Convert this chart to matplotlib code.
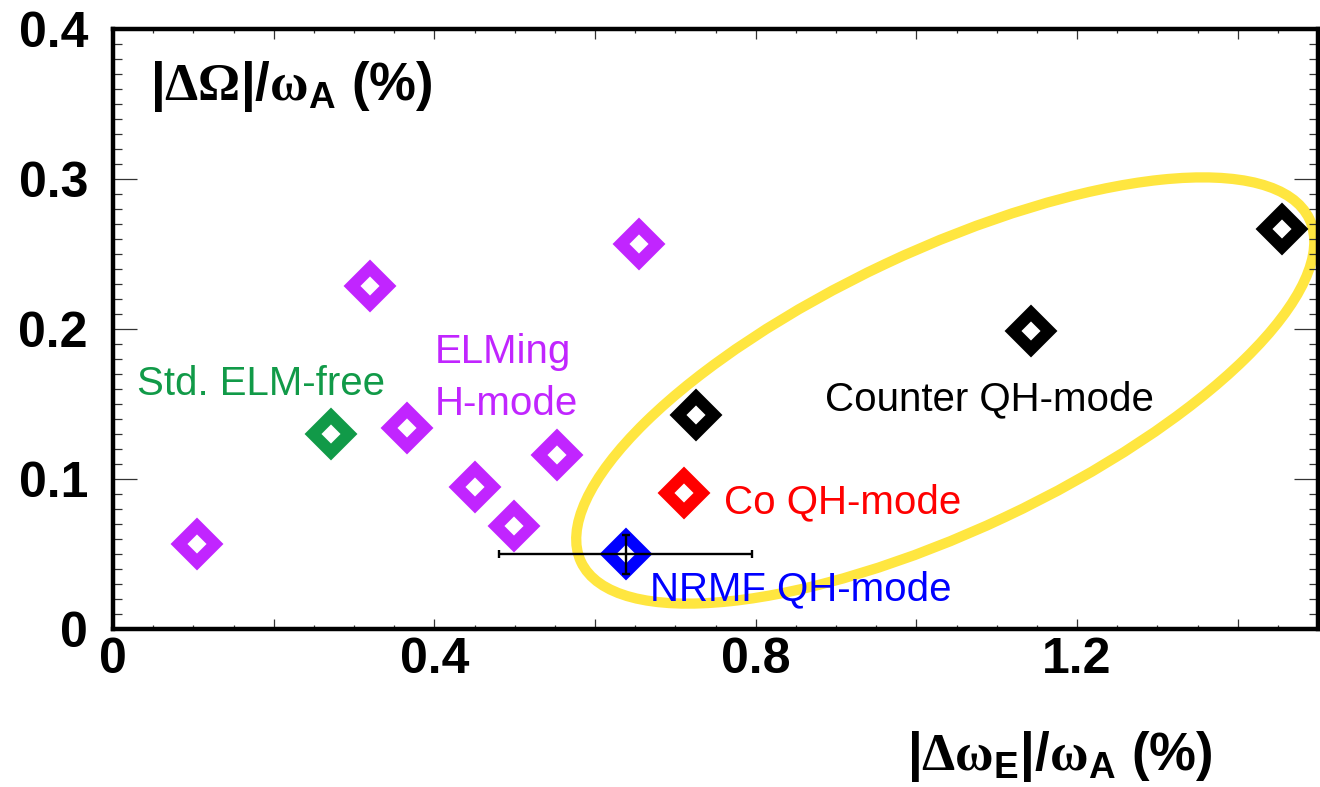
import matplotlib
matplotlib.use("Agg")
import matplotlib.pyplot as plt
from matplotlib.patches import Ellipse
from matplotlib.transforms import ScaledTranslation
from matplotlib.ticker import MultipleLocator, FuncFormatter

plt.rcParams['font.family'] = 'Liberation Sans'
plt.rcParams['font.weight'] = 'bold'
plt.rcParams['axes.labelweight'] = 'bold'
plt.rcParams['mathtext.fontset'] = 'custom'
plt.rcParams['mathtext.rm'] = 'Liberation Sans'
plt.rcParams['mathtext.bf'] = 'Liberation Serif:bold'
plt.rcParams['mathtext.sf'] = 'Liberation Sans:bold'
plt.rcParams['mathtext.it'] = 'Liberation Sans:italic:bold'

# values
elming_x = [0.105, 0.32, 0.366, 0.451, 0.499, 0.553, 0.655]
elming_y = [0.057, 0.229, 0.134, 0.095, 0.069, 0.116, 0.257]
std_x = [0.271]
std_y = [0.130]
co_x = [0.711]
co_y = [0.091]
nrmf_x = [0.638]
nrmf_y = [0.050]
nrmf_xerr = [0.158]
nrmf_yerr = [0.013]
counter_x = [0.726, 1.143, 1.455]
counter_y = [0.143, 0.199, 0.267]

purple = '#C125FF'
green = '#119A48'

fig = plt.figure(figsize=(13.2, 7.87), dpi=100)
ax = fig.add_axes([113/1320, 158/787, 1205/1320, 600/787])
ax.set_xlim(0, 1.5)
ax.set_ylim(0, 0.4)

# yellow ellipse around the QH-mode points (size given in inches)
ell = Ellipse((0, 0), width=8.05, height=2.8, angle=25.2, fill=False,
              edgecolor='#FFE640', linewidth=7.4, zorder=1,
              transform=fig.dpi_scale_trans + ScaledTranslation(1.036, 0.159, ax.transData))
ax.add_patch(ell)

mk = dict(ls='none', marker='D', mfc='white', ms=18.2, mew=8.6, zorder=3)
ax.plot(elming_x, elming_y, mec=purple, **mk)
ax.plot(std_x, std_y, mec=green, **mk)
ax.plot(co_x, co_y, mec='red', **mk)
ax.plot(nrmf_x, nrmf_y, mec='blue', **mk)
ax.plot(counter_x, counter_y, mec='black', **mk)
ax.errorbar(nrmf_x, nrmf_y, xerr=nrmf_xerr, yerr=nrmf_yerr, fmt='none',
            ecolor='black', elinewidth=1.7, capsize=3, capthick=1.7, zorder=4)

txt = dict(fontsize=29, fontweight='normal', ha='left', va='baseline', zorder=5)
ax.text(0.030, 0.156, 'Std. ELM-free', color=green, **txt)
ax.text(0.400, 0.1773, 'ELMing', color=purple, **txt)
ax.text(0.400, 0.1427, 'H-mode', color=purple, **txt)
ax.text(0.886, 0.1455, 'Counter QH-mode', color='black', **txt)
ax.text(0.761, 0.0773, 'Co QH-mode', color='red', **txt)
ax.text(0.668, 0.0193, 'NRMF QH-mode', color='blue', **txt)

ax.set_ylabel(r'$|\mathbf{\Delta\Omega}|/\mathbf{\omega}_{\mathsf{A}}$ (%)',
              fontsize=38, rotation=0, ha='left', va='baseline')
ax.yaxis.set_label_coords(0.0307, 0.8817)
ax.set_xlabel(r'$|\mathbf{\Delta\omega}_{\mathsf{E}}|/\mathbf{\omega}_{\mathsf{A}}$ (%)',
              fontsize=38, ha='right', va='baseline')
ax.xaxis.set_label_coords(0.912, -0.235)


def fmt(v, step):
    k = v / step
    if abs(k - round(k)) > 1e-6:
        return ''
    return '0' if abs(v) < 1e-9 else f'{v:.1f}'


ax.xaxis.set_major_locator(MultipleLocator(0.2))
ax.xaxis.set_minor_locator(MultipleLocator(0.05))
ax.xaxis.set_major_formatter(FuncFormatter(lambda v, p: fmt(v, 0.4)))
ax.yaxis.set_major_locator(MultipleLocator(0.1))
ax.yaxis.set_minor_locator(MultipleLocator(0.01))
ax.yaxis.set_major_formatter(FuncFormatter(lambda v, p: fmt(v, 0.1)))

ax.tick_params(which='both', direction='in', top=True, right=True,
               width=0.9, color='#333333', labelsize=36)
ax.tick_params(axis='x', which='major', length=7, pad=6)
ax.tick_params(axis='x', which='minor', length=3)
ax.tick_params(axis='y', which='major', length=17, pad=18)
ax.tick_params(axis='y', which='minor', length=6.5)
for s in ax.spines.values():
    s.set_linewidth(3.2)

fig.savefig('out.png', dpi=100)
